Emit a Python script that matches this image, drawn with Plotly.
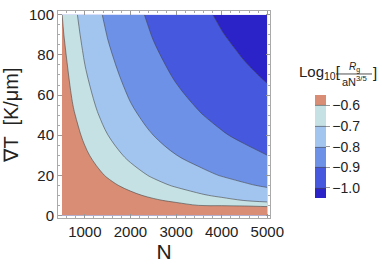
import plotly.graph_objects as go

# ---- data ----
N_values = [500, 750, 1000, 1250, 1500, 2000, 2500, 3000, 3500, 4000, 4500, 5000]
gradT_values = [0, 2.5, 5, 7.5, 10, 15, 20, 30, 40, 50, 60, 70, 80, 90, 100]
log_ratio = [
    [-0.080, -0.160, -0.210, -0.260, -0.290, -0.350, -0.390, -0.430, -0.460, -0.490, -0.500, -0.500],  # 0
    [-0.127, -0.207, -0.264, -0.308, -0.344, -0.401, -0.445, -0.481, -0.511, -0.540, -0.550, -0.555],  # 2.5
    [-0.216, -0.296, -0.353, -0.397, -0.433, -0.490, -0.534, -0.570, -0.601, -0.604, -0.607, -0.615],  # 5
    [-0.268, -0.348, -0.405, -0.449, -0.485, -0.542, -0.586, -0.621, -0.652, -0.678, -0.703, -0.740],  # 7.5
    [-0.305, -0.385, -0.442, -0.486, -0.522, -0.578, -0.622, -0.658, -0.689, -0.715, -0.738, -0.759],  # 10
    [-0.357, -0.437, -0.494, -0.538, -0.574, -0.630, -0.674, -0.710, -0.741, -0.767, -0.790, -0.811],  # 15
    [-0.394, -0.474, -0.531, -0.575, -0.610, -0.667, -0.711, -0.747, -0.778, -0.804, -0.827, -0.848],  # 20
    [-0.446, -0.526, -0.582, -0.626, -0.662, -0.719, -0.763, -0.799, -0.829, -0.856, -0.879, -0.900],  # 30
    [-0.483, -0.563, -0.619, -0.663, -0.699, -0.756, -0.800, -0.836, -0.866, -0.893, -0.916, -0.937],  # 40
    [-0.511, -0.591, -0.648, -0.692, -0.728, -0.785, -0.829, -0.865, -0.895, -0.921, -0.945, -0.965],  # 50
    [-0.535, -0.615, -0.671, -0.715, -0.751, -0.808, -0.852, -0.888, -0.918, -0.945, -0.968, -0.989],  # 60
    [-0.554, -0.634, -0.691, -0.735, -0.771, -0.828, -0.872, -0.908, -0.938, -0.964, -0.988, -1.008],  # 70
    [-0.571, -0.651, -0.708, -0.752, -0.788, -0.845, -0.889, -0.925, -0.955, -0.981, -1.005, -1.025],  # 80
    [-0.587, -0.667, -0.723, -0.767, -0.803, -0.860, -0.904, -0.940, -0.970, -0.997, -1.020, -1.041],  # 90
    [-0.599, -0.680, -0.737, -0.781, -0.817, -0.873, -0.917, -0.953, -0.984, -1.010, -1.033, -1.054],  # 100
]
contour_levels = [-1.0, -0.9, -0.8, -0.7, -0.6]
level_labels = ["\u22121.0", "\u22120.9", "\u22120.8", "\u22120.7", "\u22120.6"]
x_ticks = [1000, 2000, 3000, 4000, 5000]
y_ticks = [0, 20, 40, 60, 80, 100]

band_colors = ["#2b23c8", "#4658de", "#6e91e8", "#a2c5f0", "#c6e1e4", "#d98d75"]

# ---- layout geometry (pixels) ----
W, H = 382, 271
L, R, T, B = 58, 112, 6, 53
pw, ph = W - L - R, H - T - B


def px(xp):
    return (xp - L) / pw


def py(yp):
    return (H - B - yp) / ph


n_bands = len(band_colors)
colorscale = [[i / (n_bands - 1), c] for i, c in enumerate(band_colors)]

fig = go.Figure(
    go.Contour(
        x=N_values,
        y=gradT_values,
        z=log_ratio,
        colorscale=colorscale,
        contours=dict(start=contour_levels[0], end=contour_levels[-1],
                      size=0.1, coloring="fill", showlines=True),
        line=dict(color="rgba(70,70,70,0.75)", width=0.8, smoothing=1),
        colorbar=dict(
            x=px(315), xanchor="left", y=py(145), yanchor="middle",
            thickness=11, thicknessmode="pixels", len=103, lenmode="pixels",
            xpad=0, ypad=0,
            outlinewidth=0, tickvals=contour_levels, ticktext=level_labels,
            ticks="outside", ticklen=4, tickcolor="#999", tickwidth=1,
            tickfont=dict(family="Liberation Sans, Arial", size=14, color="#222"),
        ),
        hoverinfo="skip",
    )
)

axis_common = dict(
    showgrid=False, zeroline=False, showline=True, linecolor="#aaa", linewidth=1,
    mirror="ticks", ticks="inside", ticklen=4, tickcolor="#999", tickwidth=1,
    tickfont=dict(family="Liberation Sans, Arial", size=15, color="#222"),
)

fig.update_xaxes(
    range=[412, 5059], tickvals=x_ticks, **axis_common,
    minor=dict(dtick=200, tick0=0, ticks="inside", ticklen=2, tickcolor="#aaa"),
    title=dict(text="N", font=dict(family="Liberation Sans, Arial", size=21, color="#222"),
               standoff=5),
)
fig.update_yaxes(
    range=[-1.3, 101.9], tickvals=y_ticks, **axis_common,
    minor=dict(dtick=5, tick0=0, ticks="inside", ticklen=2, tickcolor="#aaa"),
    title=dict(text="\u2207T  [K/\u03bcm]",
               font=dict(family="Liberation Sans, Arial", size=20, color="#222"),
               standoff=5),
)

tfont = dict(family="Liberation Sans, Arial", size=15, color="#222")
nfont = dict(family="Liberation Sans, Arial", size=10, color="#222")
dfont = dict(family="Liberation Sans, Arial", size=11, color="#222")
annotations = [
    dict(text="Log<sub>10</sub>[", x=px(297), y=py(68.5), xanchor="left", yanchor="middle",
         font=tfont),
    dict(text="<i>R</i><sub>g</sub>", x=px(354), y=py(63.5), xanchor="center", yanchor="middle",
         font=nfont),
    dict(text="aN<sup>3/5</sup>", x=px(354), y=py(77.5), xanchor="center", yanchor="middle",
         font=dfont),
    dict(text="]", x=px(371), y=py(68.5), xanchor="left", yanchor="middle", font=tfont),
]
for a in annotations:
    a.update(xref="paper", yref="paper", showarrow=False)

fig.update_layout(
    width=W, height=H, margin=dict(l=L, r=R, t=T, b=B, pad=0),
    paper_bgcolor="white", plot_bgcolor="white",
    annotations=annotations,
    shapes=[dict(type="line", xref="paper", yref="paper",
                 x0=px(336), x1=px(372), y0=py(70.5), y1=py(70.5),
                 line=dict(color="#222", width=0.8))],
    showlegend=False,
)

fig.write_html("out.html", config={"displayModeBar": False},
               post_script="document.body.style.margin='0px';")
